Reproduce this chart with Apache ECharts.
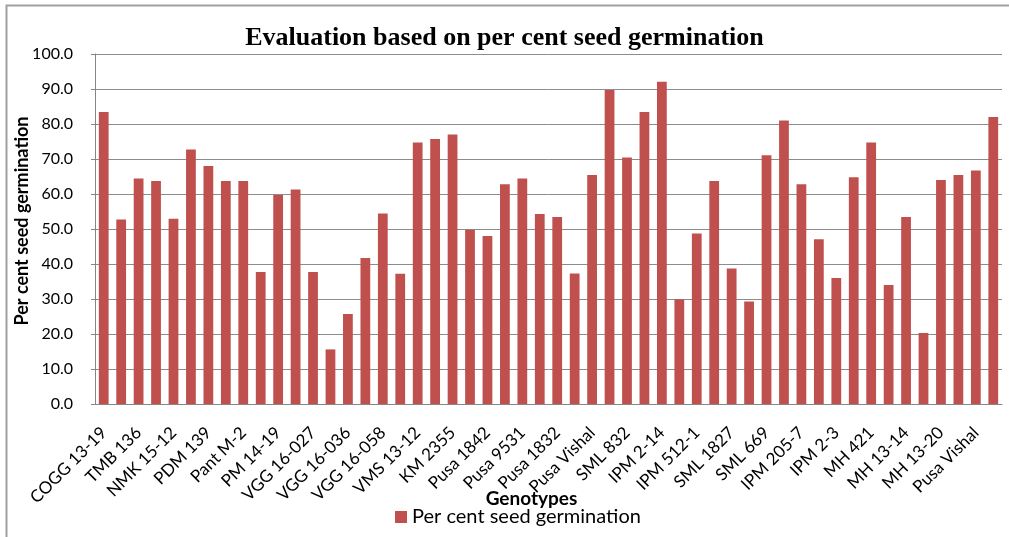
<!DOCTYPE html>
<html>
<head>
<meta charset="utf-8">
<script src="https://cdn.jsdelivr.net/npm/echarts@6/dist/echarts.min.js"></script>
<style>
  html, body { margin: 0; padding: 0; background: #fff; }
  #chart { width: 1009px; height: 537px; }
</style>
</head>
<body>
<div id="chart"></div>
<script>
// genotypes (only every other name is printed on the axis)
const genotypes = [
  'COGG 13-19', '', 'TMB 136', '', 'NMK 15-12', '', 'PDM 139', '', 'Pant M-2', '',
  'PM 14-19', '', 'VGG 16-027', '', 'VGG 16-036', '', 'VGG 16-058', '', 'VMS 13-12', '',
  'KM 2355', '', 'Pusa 1842', '', 'Pusa 9531', '', 'Pusa 1832', '', 'Pusa Vishal', '',
  'SML 832', '', 'IPM 2-14', '', 'IPM 512-1', '', 'SML 1827', '', 'SML 669', '',
  'IPM 205-7', '', 'IPM 2-3', '', 'MH 421', '', 'MH 13-14', '', 'MH 13-20', '',
  'Pusa Vishal', ''
]
const germination = [
  83.4, 52.7, 64.4, 63.7, 52.9, 72.7, 68.0, 63.7, 63.7, 37.7,
  59.7, 61.3, 37.7, 15.6, 25.7, 41.7, 54.4, 37.2, 74.7, 75.7,
  77.0, 49.8, 48.0, 62.8, 64.4, 54.3, 53.4, 37.3, 65.4, 89.7,
  70.4, 83.4, 92.1, 29.9, 48.7, 63.7, 38.7, 29.3, 71.1, 81.0,
  62.8, 47.1, 36.0, 64.8, 74.7, 34.0, 53.4, 20.3, 64.0, 65.4,
  66.7, 82.0
]

const chart = echarts.init(document.getElementById('chart'))
const font = 'Lato, "Open Sans", sans-serif'

chart.setOption({
  animation: false,
  color: ['#C0504D'],
  title: {
    text: 'Evaluation based on per cent seed germination',
    left: 'center',
    top: 25,
    padding: 0,
    textStyle: {
      fontFamily: '"Liberation Serif", "Times New Roman", serif',
      fontWeight: 'bold',
      fontSize: 26,
      color: '#000'
    }
  },
  graphic: [
    {
      type: 'rect',
      shape: { x: 6.5, y: 5.5, width: 1010, height: 540 },
      style: { fill: 'none', stroke: '#a0a0a0', lineWidth: 2 },
      silent: true
    }
  ],
  legend: {
    left: 395,
    top: 507,
    padding: 0,
    itemWidth: 12,
    itemHeight: 12,
    itemGap: 6,
    icon: 'rect',
    textStyle: { fontFamily: font, fontSize: 20, color: '#000' },
    data: ['Per cent seed germination']
  },
  grid: {
    left: 95,
    right: 7,
    top: 54,
    bottom: 133,
    containLabel: false,
    outerBoundsMode: 'none'
  },
  xAxis: {
    type: 'category',
    data: genotypes,
    name: 'Genotypes',
    nameLocation: 'middle',
    nameGap: 85,
    nameMoveOverlap: false,
    nameTextStyle: {
      fontFamily: font,
      fontWeight: 'bold',
      fontSize: 19,
      color: '#000',
      padding: [0, 34, 0, 0]
    },
    axisLine: { lineStyle: { color: '#868686', width: 1 } },
    axisTick: { show: false },
    axisLabel: {
      interval: 1,
      rotate: 45,
      margin: 26,
      fontFamily: font,
      fontSize: 17,
      color: '#000'
    }
  },
  yAxis: {
    type: 'value',
    min: 0,
    max: 100,
    interval: 10,
    name: 'Per cent seed germination',
    nameLocation: 'middle',
    nameGap: 73,
    nameMoveOverlap: false,
    nameTextStyle: {
      fontFamily: font,
      fontWeight: 'bold',
      fontSize: 18,
      color: '#000',
      verticalAlign: 'middle',
      padding: [0, 0, 0, 16]
    },
    axisLine: { show: true, lineStyle: { color: '#868686' } },
    axisTick: { show: true, length: 4, lineStyle: { color: '#868686' } },
    axisLabel: {
      margin: 22,
      fontFamily: font,
      fontSize: 16,
      color: '#000',
      formatter: v => v.toFixed(1)
    },
    splitLine: { lineStyle: { color: '#8c8c8c', width: 1 } }
  },
  series: [
    {
      name: 'Per cent seed germination',
      type: 'bar',
      data: germination,
      barCategoryGap: '44%',
      itemStyle: { color: '#C0504D' }
    }
  ]
})
</script>
</body>
</html>
